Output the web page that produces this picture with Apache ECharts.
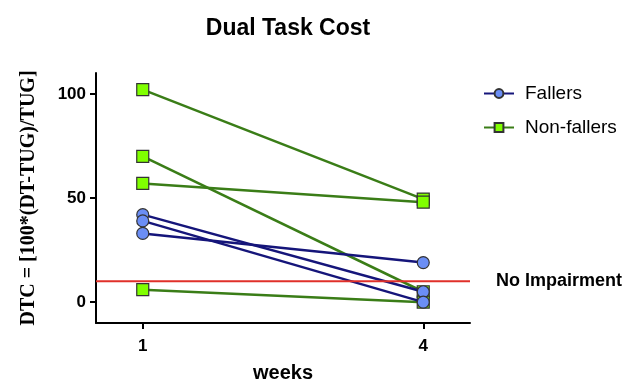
<!DOCTYPE html>
<html>
<head>
<meta charset="utf-8">
<script src="https://cdn.jsdelivr.net/npm/echarts@6/dist/echarts.min.js"></script>
<style>
  html, body { margin: 0; padding: 0; background: #fff; }
  #chart { width: 634px; height: 380px; }
</style>
</head>
<body>
<div id="chart"></div>
<script>
// weeks on the x axis
const weeks = [1, 4]
// each subject is one pair (week 1, week 4)
const fallersWeek1 = [42, 39, 33]
const fallersWeek4 = [5, 0, 19]
const nonFallersWeek1 = [102, 70, 57, 6]
const nonFallersWeek4 = [49.5, 5, 48, 0]
const impairmentLevel = 10
const yTicks = [0, 50, 100]

const font = 'Arial, "Liberation Sans", sans-serif'

function subjectSeries(name, w1, w4, lineColor, fill, symbol) {
  return w1.map((v, i) => ({
    name: name,
    type: 'line',
    symbol: symbol,
    symbolSize: 12,
    lineStyle: { color: lineColor, width: 2.5 },
    itemStyle: { color: fill, borderColor: '#333', borderWidth: 1.2 },
    emphasis: { disabled: true },
    z: name === 'Fallers' ? 4 : 3,
    data: [[weeks[0], v], [weeks[1], w4[i]]]
  }))
}

const chart = echarts.init(document.getElementById('chart'))

chart.setOption({
  animation: false,
  title: {
    text: 'Dual Task Cost',
    left: 283,
    top: 12,
    textAlign: 'center',
    textStyle: { fontFamily: font, fontSize: 23, fontWeight: 'bold', color: '#000' }
  },
  legend: {
    data: ['Fallers', 'Non-fallers'],
    orient: 'vertical',
    left: 478,
    top: 79,
    itemGap: 15,
    itemWidth: 30,
    itemHeight: 11,
    textStyle: { fontFamily: font, fontSize: 19, color: '#000', padding: [0, 0, 0, 6] }
  },
  grid: { left: 96, right: 164, top: 73, bottom: 57, outerBoundsMode: 'none' },
  xAxis: {
    type: 'value',
    min: 0.5,
    max: 4.5,
    name: 'weeks',
    nameLocation: 'middle',
    nameGap: 40,
    nameTextStyle: { fontFamily: font, fontSize: 20, fontWeight: 'bold', color: '#000' },
    axisLine: { onZero: false, lineStyle: { color: '#000', width: 2 } },
    axisTick: { customValues: weeks, length: 6, lineStyle: { color: '#000', width: 2 } },
    axisLabel: { customValues: weeks, margin: 15, fontFamily: font, fontSize: 17, fontWeight: 'bold', color: '#000' },
    splitLine: { show: false }
  },
  yAxis: {
    type: 'value',
    min: -10,
    max: 110,
    name: 'DTC = [100*(DT-TUG)/TUG]',
    nameLocation: 'middle',
    nameGap: 57,
    nameTextStyle: { fontFamily: '"Liberation Serif", "Times New Roman", serif', fontSize: 20, fontWeight: 'bold', color: '#000' },
    axisLine: { show: true, onZero: false, lineStyle: { color: '#000', width: 2 } },
    axisTick: { show: true, customValues: yTicks, length: 6, lineStyle: { color: '#000', width: 2 } },
    axisLabel: { customValues: yTicks, margin: 10, fontFamily: font, fontSize: 17, fontWeight: 'bold', color: '#000' },
    splitLine: { show: false }
  },
  series: [
    {
      type: 'line',
      symbol: 'none',
      silent: true,
      lineStyle: { color: '#e0302a', width: 2 },
      z: 5,
      data: [[0.5, impairmentLevel], [4.5, impairmentLevel]],
      endLabel: {
        show: true,
        formatter: 'No Impairment',
        distance: 26,
        fontFamily: font,
        fontSize: 18,
        fontWeight: 'bold',
        color: '#000'
      }
    },
    ...subjectSeries('Non-fallers', nonFallersWeek1, nonFallersWeek4, '#3a7d17', '#80ff00', 'rect'),
    ...subjectSeries('Fallers', fallersWeek1, fallersWeek4, '#15157a', '#6b8ef5', 'circle')
  ]
})
</script>
</body>
</html>
